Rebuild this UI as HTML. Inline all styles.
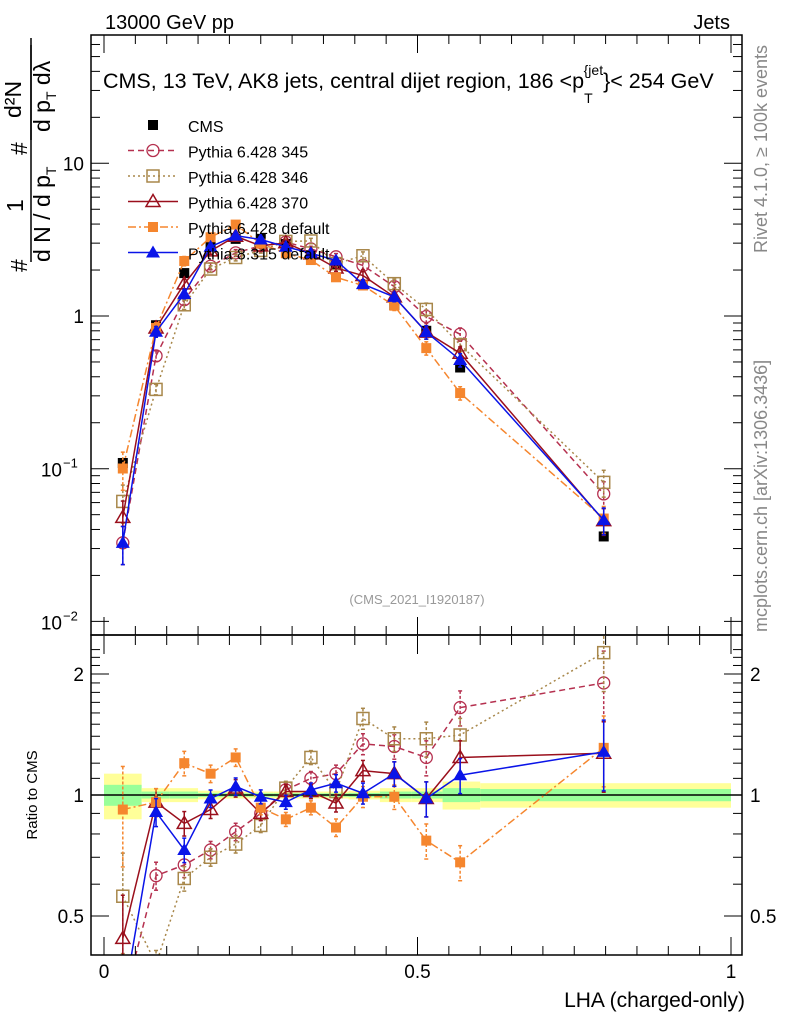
<!DOCTYPE html>
<html><head><meta charset="utf-8"><style>
body{margin:0;background:#fff}
svg{display:block;font-family:"Liberation Sans",Arial,sans-serif}
</style></head><body>
<svg id="c" width="786" height="1024" viewBox="0 0 786 1024" xmlns="http://www.w3.org/2000/svg">
<text x="105" y="29" font-size="20">13000 GeV pp</text>
<text x="730" y="29" font-size="20" text-anchor="end">Jets</text>
<text x="103" y="88" font-size="21.5">CMS, 13 TeV, AK8 jets, central dijet region, 186 &lt;p<tspan font-size="14" dy="15">T</tspan><tspan font-size="14" dy="-28" dx="-9">{jet</tspan><tspan dy="13">}&lt; 254 GeV</tspan></text>
<text x="417" y="604" font-size="13" fill="#999" text-anchor="middle">(CMS_2021_I1920187)</text>
<text transform="translate(767,253) rotate(-90)" font-size="18" fill="#888">Rivet 4.1.0, ≥ 100k events</text>
<text transform="translate(767,632) rotate(-90)" font-size="18" fill="#888">mcplots.cern.ch [arXiv:1306.3436]</text>
<g font-size="23">
<text transform="translate(27,272) rotate(-90)">#</text>
<text transform="translate(50,262) rotate(-90)">d N / d p<tspan font-size="14" dy="6">T</tspan></text>
<text transform="translate(23,212) rotate(-90)">1</text>
<line x1="31" y1="262" x2="31" y2="45" stroke="#000" stroke-width="1.5"/>
<text transform="translate(27,155) rotate(-90)">#</text>
<text transform="translate(21,118) rotate(-90)">d²N</text>
<text transform="translate(50,132) rotate(-90)">d p<tspan font-size="14" dy="6">T</tspan><tspan dy="-6"> dλ</tspan></text>
<line x1="31" y1="140" x2="31" y2="38" stroke="#000" stroke-width="1.5"/>
</g>
<text transform="translate(37,795) rotate(-90)" font-size="15" text-anchor="middle">Ratio to CMS</text>
<text x="745" y="1007" font-size="21" text-anchor="end">LHA (charged-only)</text>
<g id="plot"></g>
</svg>
<script>
const edges=[0,0.06,0.105,0.15,0.19,0.23,0.27,0.31,0.35,0.39,0.44,0.49,0.54,0.6,1.0];
const centers=[0.03,0.083,0.128,0.17,0.21,0.25,0.29,0.33,0.37,0.413,0.463,0.514,0.568,0.797];
const cms=[0.109,0.87,1.91,2.9,3.2,3.2,2.96,2.5,2.16,1.6,1.18,0.80,0.46,0.036];
const bandYellow=[0.13,0.04,0.04,0.025,0.02,0.02,0.02,0.02,0.02,0.025,0.04,0.04,0.08,0.07];
const bandGreen=[0.06,0.02,0.02,0.012,0.01,0.01,0.01,0.01,0.01,0.012,0.02,0.02,0.04,0.035];
const r345=[0.30,0.63,0.67,0.73,0.81,0.90,1.03,1.10,1.13,1.34,1.32,1.24,1.65,1.90];
const r346=[0.56,0.38,0.62,0.70,0.755,0.84,1.04,1.24,1.02,1.55,1.38,1.38,1.41,2.26];
const r370=[0.44,0.96,0.85,0.92,1.04,0.90,1.02,1.02,0.955,1.15,1.13,0.98,1.24,1.27];
const rdef=[0.92,0.96,1.20,1.13,1.24,0.93,0.87,0.93,0.83,0.99,0.99,0.77,0.68,1.31];
const r8=[0.30,0.907,0.73,0.98,1.05,0.99,0.96,1.03,1.07,1.01,1.13,0.98,1.12,1.28];
const relErr=[0.28,0.08,0.07,0.05,0.05,0.04,0.04,0.04,0.05,0.06,0.07,0.1,0.1,0.2];
const series=[
 {name:'Pythia 6.428 345',r:r345,col:'#b5304f',dash:'6,4',mk:'circle',key:'p345'},
 {name:'Pythia 6.428 346',r:r346,col:'#a8874a',dash:'2,3',mk:'opensq',key:'p346'},
 {name:'Pythia 6.428 370',r:r370,col:'#9a0f1c',dash:'',mk:'opentri',key:'p370'},
 {name:'Pythia 6.428 default',r:rdef,col:'#f5862e',dash:'8,3,2,3',mk:'sq',key:'pdef'},
 {name:'Pythia 8.315 default',r:r8,col:'#0a14e8',dash:'',mk:'tri',key:'p8'}];
const NS='http://www.w3.org/2000/svg';
const g=document.getElementById('plot');
const X=v=>104+627*v;
const Y=v=>316-152.7*Math.log10(v);
const R=v=>795-402*Math.log10(v);
function el(t,a,p){const e=document.createElementNS(NS,t);for(const k in a)e.setAttribute(k,a[k]);(p||g).appendChild(e);return e;}
function clip(id,y1,y2){const c=el('clipPath',{id:id});el('rect',{x:91,y:y1,width:651,height:y2-y1},c);}
clip('cm',35,635);clip('cr',636,955);
const bands=el('g',{'clip-path':'url(#cr)'});


for(let i=0;i<centers.length;i++){
 const a=X(edges[i]),b=X(edges[i+1]);
 let r=el('rect',{x:a,y:R(1+bandYellow[i]),width:b-a,height:R(1-bandYellow[i])-R(1+bandYellow[i]),fill:'#ffff99'},bands);
 
 
 r=el('rect',{x:a,y:R(1+bandGreen[i]),width:b-a,height:R(1-bandGreen[i])-R(1+bandGreen[i]),fill:'#99ff99'},bands);
 
 
}
el('line',{x1:91,x2:742,y1:R(1),y2:R(1),stroke:'#000','stroke-width':1.5});
function marker(p,mk,x,y,col){
 const s=6;
 if(mk==='circle')return el('circle',{cx:x,cy:y,r:s,fill:'none',stroke:col,'stroke-width':1.3},p);
 if(mk==='opensq')return el('rect',{x:x-s,y:y-s,width:2*s,height:2*s,fill:'none',stroke:col,'stroke-width':1.5},p);
 if(mk==='sq')return el('rect',{x:x-5,y:y-5,width:10,height:10,fill:col},p);
 const pts=`${x},${y-7} ${x-7},${y+5} ${x+7},${y+5}`;
 if(mk==='opentri')return el('polygon',{points:pts,fill:'none',stroke:col,'stroke-width':1.5},p);
 return el('polygon',{points:pts,fill:col},p);
}
function drawSeries(s,yf,clipId,isRatio){
 const grp=el('g',{'clip-path':`url(#${clipId})`});
 
 
 const vals=s.r.map((r,i)=>isRatio?r:r*cms[i]);
 el('polyline',{points:vals.map((v,i)=>X(centers[i])+','+yf(v)).join(' '),fill:'none',stroke:s.col,'stroke-width':1.5,'stroke-dasharray':s.dash},grp);
 vals.forEach((v,i)=>{
  const x=X(centers[i]),e=relErr[i];
  el('line',{x1:x,x2:x,y1:yf(v*(1+e)),y2:yf(v*(1-e)),stroke:s.col,'stroke-width':1.5,'stroke-dasharray':s.dash?'3,2':''},grp);
  el('line',{x1:x-2,x2:x+2,y1:yf(v*(1+e)),y2:yf(v*(1+e)),stroke:s.col,'stroke-width':1.5},grp);
  el('line',{x1:x-2,x2:x+2,y1:yf(v*(1-e)),y2:yf(v*(1-e)),stroke:s.col,'stroke-width':1.5},grp);
  const m=marker(grp,s.mk,x,yf(v),s.col);
  
  
 });
}
const cg=el('g',{'clip-path':'url(#cm)'});


cms.forEach((v,i)=>{const m=el('rect',{x:X(centers[i])-5,y:Y(v)-5,width:10,height:10,fill:'#000'},cg);
 
 });
series.forEach(s=>{drawSeries(s,Y,'cm',false);drawSeries(s,R,'cr',true);});
el('rect',{x:91,y:35,width:651,height:600,fill:'none',stroke:'#000','stroke-width':1.5});
el('rect',{x:91,y:635,width:651,height:320,fill:'none',stroke:'#000','stroke-width':1.5});
for(let d=-2;d<=1;d++){for(let m=1;m<10;m++){const v=m*Math.pow(10,d);const y=Y(v);if(y<35||y>635)continue;const L=m===1?18:9;
 el('line',{x1:91,x2:91+L,y1:y,y2:y,stroke:'#000'});el('line',{x1:742,x2:742-L,y1:y,y2:y,stroke:'#000'});}}
const ytl=[[10,'10'],[1,'1']];
ytl.forEach(t=>{const e=el('text',{x:84,y:Y(t[0])+7,'font-size':19,'text-anchor':'end'});e.textContent=t[1];});
[[0.1,'−1'],[0.01,'−2']].forEach(t=>{const e=el('text',{x:62,y:Y(t[0])+8,'font-size':19,'text-anchor':'end'});e.textContent='10';
 const s=el('text',{x:63,y:Y(t[0])-1,'font-size':13});s.textContent=t[1];});
for(let v=0.4;v<=2.4;v+=0.1){const y=R(v);if(y<636||y>955)continue;const maj=[0.5,1,2].some(q=>Math.abs(q-v)<1e-6);const L=maj?18:9;
 el('line',{x1:91,x2:91+L,y1:y,y2:y,stroke:'#000'});el('line',{x1:742,x2:742-L,y1:y,y2:y,stroke:'#000'});}
[[2,'2'],[1,'1'],[0.5,'0.5']].forEach(t=>{let e=el('text',{x:84,y:R(t[0])+7,'font-size':19,'text-anchor':'end'});e.textContent=t[1];
 e=el('text',{x:750,y:R(t[0])+7,'font-size':19});e.textContent=t[1];});
for(let k=0;k<=20;k++){const v=k*0.05;const x=X(v);const maj=k%10===0;const L=maj?18:9;
 el('line',{x1:x,x2:x,y1:955,y2:955-L,stroke:'#000'});el('line',{x1:x,x2:x,y1:635,y2:635-L,stroke:'#000'});
 el('line',{x1:x,x2:x,y1:636,y2:636+L,stroke:'#000'});el('line',{x1:x,x2:x,y1:35,y2:35+L,stroke:'#000'});}
[[0,'0'],[0.5,'0.5'],[1,'1']].forEach(t=>{const e=el('text',{x:X(t[0]),y:978,'font-size':19,'text-anchor':'middle'});e.textContent=t[1];});
const lg=el('g',{});


const ly0=125,ldy=25.5;
let e=el('rect',{x:148,y:ly0-5,width:10,height:10,fill:'#000'},lg);
e=el('text',{x:188,y:ly0+7,'font-size':16},lg);e.textContent='CMS';
series.forEach((s,i)=>{const y=ly0+ldy*(i+1);
 const eg=el('g',{},lg);
 
 
 el('line',{x1:128,x2:178,y1:y,y2:y,stroke:s.col,'stroke-width':1.5,'stroke-dasharray':s.dash},eg);
 marker(eg,s.mk,153,y,s.col);
 const t=el('text',{x:188,y:y+7,'font-size':16},eg);t.textContent=s.name;});
</script>
</body></html>
